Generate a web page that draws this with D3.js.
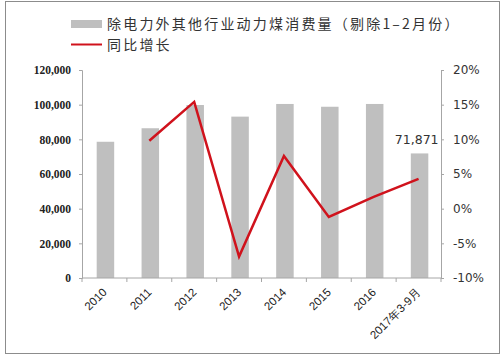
<!DOCTYPE html>
<html><head><meta charset="utf-8">
<script src="https://cdn.jsdelivr.net/npm/d3@7"></script>
<style>body{margin:0;background:#fff}svg{display:block}</style>
</head><body>
<script>
const categories = ["2010","2011","2012","2013","2014","2015","2016","2017年3-9月"];
const consumption = [78600, 86400, 99800, 93100, 100400, 98800, 100400, 71871];
const growth = [null, 9.8, 15.4, -6.9, 7.6, -1.2, 1.7, 4.3];
const leftTicks = [0, 20000, 40000, 60000, 80000, 100000, 120000];
const rightTicks = [-10, -5, 0, 5, 10, 15, 20];
const barName = "除电力外其他行业动力煤消费量（剔除1–2月份）";
const lineName = "同比增长";

const W = 503, H = 356;
const svg = d3.select("body").append("svg").attr("width", W).attr("height", H);
svg.append("rect").attr("x",5.5).attr("y",1.5).attr("width",494).attr("height",352)
  .attr("fill","none").attr("stroke","#8c8c8c").attr("stroke-width",1);

const x0 = 82, x1 = 441, yTop = 70, yBot = 278;
const x = d3.scaleBand().domain(categories).range([x0, x1]).paddingInner(0).paddingOuter(0);
const yL = d3.scaleLinear().domain([0,120000]).range([yBot, yTop]);
const yR = d3.scaleLinear().domain([-10,20]).range([yBot, yTop]);

const barW = 17.5;
svg.append("g").selectAll("rect").data(categories).join("rect")
  .attr("x", d => x(d) + x.bandwidth()/2 - barW/2 + 1)
  .attr("width", barW)
  .attr("y", (d,i) => yL(consumption[i]))
  .attr("height", (d,i) => yBot - yL(consumption[i]))
  .attr("fill", "#bfbfbf");

// left axis
const gl = svg.append("g").attr("transform", `translate(${x0},0)`)
  .call(d3.axisLeft(yL).tickValues(leftTicks).tickSize(3).tickPadding(8).tickFormat(d3.format(",")));
gl.select(".domain").attr("stroke","#a6a6a6");
gl.selectAll(".tick line").attr("stroke","#a6a6a6");
gl.selectAll("text").attr("font-family","'Liberation Serif', serif").attr("font-weight","bold")
  .attr("font-size", 11.5).attr("fill","#222");

// right axis
const gr = svg.append("g").attr("transform", `translate(${x1},0)`)
  .call(d3.axisRight(yR).tickValues(rightTicks).tickSize(3).tickPadding(9).tickFormat(d => d + "%"));
gr.select(".domain").attr("stroke","#a6a6a6");
gr.selectAll(".tick line").attr("stroke","#a6a6a6");
gr.selectAll("text").attr("font-family","'DejaVu Sans', sans-serif").attr("font-size", 12).attr("fill","#333");

// x axis
const gx = svg.append("g").attr("transform", `translate(0,${yBot})`);
gx.append("line").attr("x1", x0).attr("x2", x1).attr("stroke","#a6a6a6");
gx.selectAll("line.t").data(categories.concat(["end"])).join("line").attr("class","t")
  .attr("x1", (d,i) => x0 + i*x.bandwidth()).attr("x2", (d,i) => x0 + i*x.bandwidth())
  .attr("y1", 0).attr("y2", 4).attr("stroke","#a6a6a6");
gx.selectAll("text").data(categories).join("text")
  .attr("transform", d => `translate(${x(d) + x.bandwidth()/2 + 3},${15}) rotate(-45)`)
  .attr("text-anchor","end")
  .attr("font-family","'Liberation Sans', Arial, sans-serif").attr("font-size", 11.5).attr("fill","#222")
  .text(d => d);

// line
const pts = categories.map((c,i) => [x(c) + x.bandwidth()/2, growth[i]]).filter(p => p[1] !== null);
svg.append("path").datum(pts)
  .attr("d", d3.line().x(p => p[0]).y(p => yR(p[1])))
  .attr("fill","none").attr("stroke","#d0121c").attr("stroke-width",2.5).attr("stroke-linejoin","miter");

// data label
const last = categories.length - 1;
svg.append("text").attr("x", x(categories[last]) + x.bandwidth()/2 + 20).attr("y", yL(consumption[last]) - 9)
  .attr("text-anchor","end").attr("font-family","'DejaVu Sans', sans-serif").attr("font-size", 12.5)
  .attr("fill","#333").text(d3.format(",")(consumption[last]));

// legend
const lg = svg.append("g");
lg.append("rect").attr("x",71).attr("y",20).attr("width",31).attr("height",8).attr("fill","#bfbfbf");
lg.append("text").attr("x",107).attr("y",29).attr("font-family","'Noto Sans CJK SC', sans-serif")
  .attr("font-size",14).attr("letter-spacing",2.2).attr("fill","#333").text(barName);
lg.append("line").attr("x1",71).attr("x2",102).attr("y1",44.5).attr("y2",44.5).attr("stroke","#d0121c").attr("stroke-width",2);
lg.append("text").attr("x",107).attr("y",50).attr("font-family","'Noto Sans CJK SC', sans-serif")
  .attr("font-size",14).attr("letter-spacing",2.2).attr("fill","#333").text(lineName);
</script>
</body></html>
